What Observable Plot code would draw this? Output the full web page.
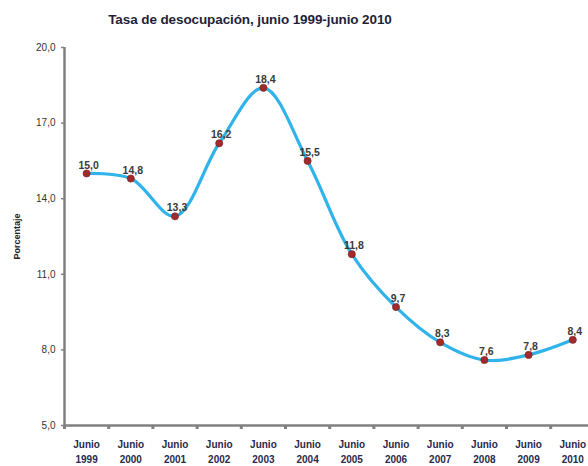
<!DOCTYPE html>
<html>
<head>
<meta charset="utf-8">
<script src="https://cdn.jsdelivr.net/npm/d3@7"></script>
<script src="https://cdn.jsdelivr.net/npm/@observablehq/plot@0.6"></script>
<style>
  html, body { margin: 0; padding: 0; background: #fff; }
  #chart { position: relative; width: 588px; height: 466px; overflow: hidden; }
  #title { position: absolute; left: 0; width: 500px; top: 12px; text-align: center;
           font: bold 13.5px "Liberation Sans", Arial, sans-serif; color: #1f1f3a; letter-spacing: -0.1px; }
</style>
</head>
<body>
<div id="chart"><div id="title">Tasa de desocupación, junio 1999-junio 2010</div></div>
<script>
const years = ["1999","2000","2001","2002","2003","2004","2005","2006","2007","2008","2009","2010"];
const rates = [15.0, 14.8, 13.3, 16.2, 18.4, 15.5, 11.8, 9.7, 8.3, 7.6, 7.8, 8.4];
const yTicks = [5, 8, 11, 14, 17, 20];

const data = years.map((y, i) => ({i, year: y, rate: rates[i]}));
const idx = years.map((_, i) => i);
const bounds = years.map((_, i) => i - 0.5).concat([years.length - 0.5]);
const fmt = v => v.toFixed(1).replace(".", ",");
const font = '"Liberation Sans", Arial, sans-serif';
const gray = "#808080";

const plot = Plot.plot({
  width: 588,
  height: 466,
  marginTop: 47,
  marginBottom: 41,
  marginLeft: 64,
  marginRight: 0,
  style: {fontFamily: font, background: "transparent"},
  x: {type: "linear", domain: [-0.5, 11.5], range: [64, 64 + 12 * 44.2]},
  y: {domain: [5, 20]},
  marks: [
    Plot.axisY({ticks: yTicks, tickFormat: fmt, tickSize: 3, tickPadding: 6, fontSize: 10,
                stroke: gray, strokeWidth: 1.5, fill: "#333", label: null}),
    Plot.axisX({ticks: bounds, tickFormat: () => "", tickSize: 4, stroke: gray, strokeWidth: 3, label: null}),
    Plot.axisX({ticks: idx, tickFormat: i => `Junio\n${years[i]}`, tickSize: 0, tickPadding: 12,
                fontSize: 10, fontWeight: "bold", lineHeight: 1.5, fill: "#2a2a4a", label: null}),
    Plot.ruleY([5], {stroke: gray, strokeWidth: 2.5}),
    Plot.ruleX([-0.5], {stroke: gray, strokeWidth: 2.5}),
    Plot.text(["Porcentaje"], {frameAnchor: "left", textAnchor: "middle", rotate: -90, dx: -47, fontSize: 9,
                fontWeight: "bold", fill: "#222"}),
    Plot.line(data, {x: "i", y: "rate", curve: "catmull-rom", stroke: "#2fb3ea", strokeWidth: 3.2}),
    Plot.dot(data, {x: "i", y: "rate", r: 3.6, fill: "#a02a2c", stroke: "#7a1f22", strokeWidth: 0.6}),
    Plot.text(data, {x: "i", y: "rate", text: d => fmt(d.rate), lineAnchor: "bottom", dy: -5, dx: 2,
                fontSize: 10.5, fontWeight: "bold", fill: "#3a3a3a"})
  ]
});
document.getElementById("chart").appendChild(plot);
</script>
</body>
</html>
